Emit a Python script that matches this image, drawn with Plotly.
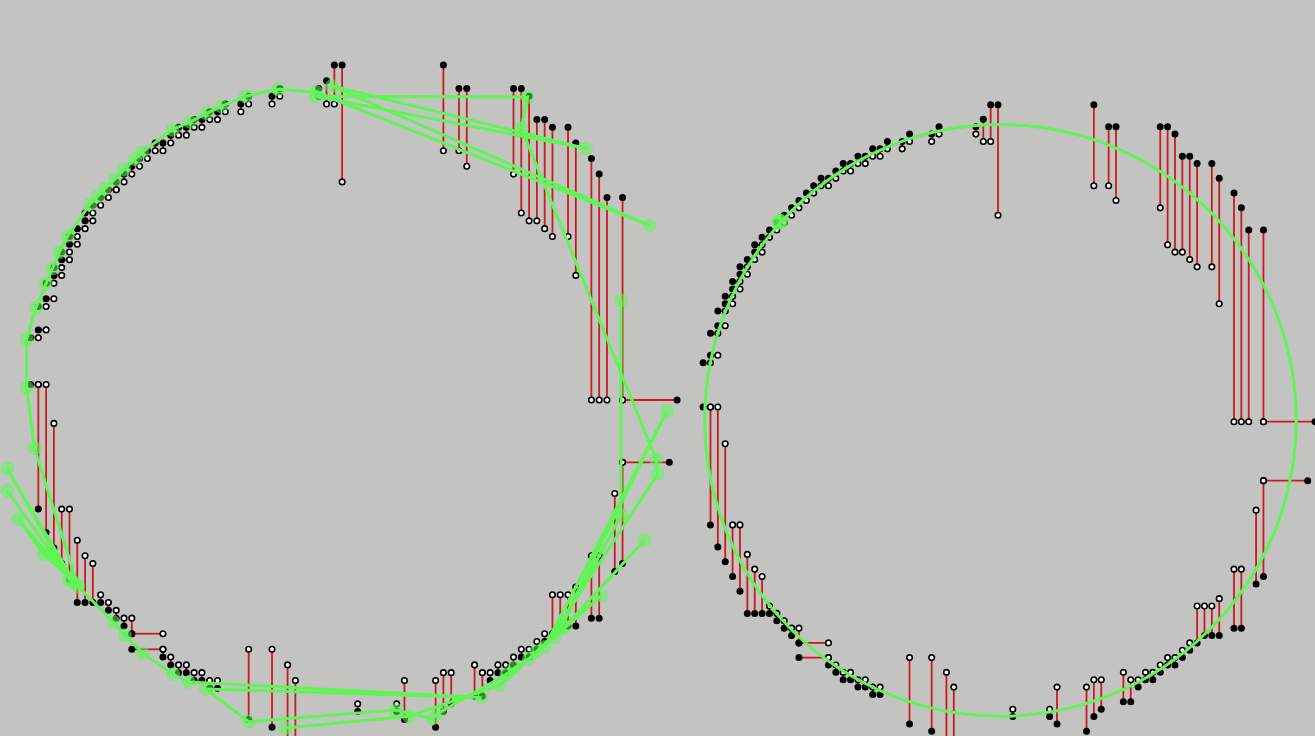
import plotly.graph_objects as go

# ---- paired points (grid units): black "b" points and white "w" points ----
bx = [-40, -40, -39, -39, -38, -38, -37, -37, -36, -36, -35, -35, -34, -33, -33, -32, -31, -30,
      -29, -28, -27, -26, -25, -24, -23, -22, -21, -20, -19, -18, -17, -16, -15, -13, -12, -9, -8, -3, -2, -1, 0,
      13, 15, 16, 22, 23, 24, 25, 26, 27, 29, 30, 32, 33, 34, 36,
      43, 42,
      36, 35, 33, 32, 30, 29, 28, 27, 26, 25, 24, 23, 22, 21, 20, 19, 18, 17, 14, 13, 12, 8, 7, 2,
      -6, -7, -9, -12, -16, -17, -18, -19, -20, -21, -22, -23, -27, -27, -27, -28, -29, -30, -31, -32, -33, -34,
      -35, -36, -37, -38, -39]
by = [2, 8, 9, 12, 13, 15, 16, 17, 18, 19, 20, 21, 22, 23, 24, 25, 26, 27,
      28, 29, 30, 31, 32, 33, 33, 34, 35, 35, 36, 36, 37, 37, 38, 38, 39, 39, 40, 40, 41, 43, 43,
      43, 40, 40, 40, 40, 39, 36, 36, 35, 35, 33, 31, 29, 26, 26,
      0, -8,
      -21, -22, -28, -28, -29, -29, -29, -30, -31, -32, -33, -33, -34, -35, -35, -36, -38, -38, -39, -40, -42, -41, -40, -40,
      -46, -45, -42, -41, -37, -37, -36, -36, -35, -35, -34, -33, -32, -30, -30, -29, -28, -27, -26, -26, -26, -26,
      -23, -21, -19, -17, -14]
wx = [-39, -39, -38, -38, -37, -37, -36, -36, -35, -35, -34, -34, -33, -32, -32, -31, -30, -29,
      -29, -28, -27, -26, -25, -24, -23, -22, -21, -20, -19, -18, -17, -16, -15, -13, -12, -9, -8, -3, -2, -1, 0,
      13, 15, 16, 22, 23, 24, 25, 26, 27, 29, 30, 32, 33, 34, 36,
      36, 36,
      36, 35, 33, 32, 30, 29, 28, 27, 26, 25, 24, 23, 22, 21, 20, 19, 18, 17, 14, 13, 12, 8, 7, 2,
      -6, -7, -9, -12, -16, -17, -18, -19, -20, -21, -22, -23, -23, -23, -27, -28, -29, -30, -31, -32, -33, -34,
      -35, -36, -37, -38, -39]
wy = [2, 8, 9, 12, 13, 15, 16, 17, 18, 19, 20, 21, 22, 23, 24, 25, 26, 27,
      27, 28, 29, 30, 31, 32, 32, 33, 34, 34, 35, 35, 36, 36, 37, 37, 38, 38, 39, 39, 38, 38, 28,
      32, 32, 30, 29, 24, 23, 23, 22, 21, 21, 16, 0, 0, 0, 0,
      0, -8,
      -8, -12, -20, -20, -24, -25, -25, -25, -30, -31, -32, -32, -33, -34, -34, -35, -35, -34, -35, -35, -36, -36, -39, -39,
      -36, -34, -32, -32, -36, -36, -35, -35, -34, -34, -33, -32, -32, -30, -28, -28, -27, -26, -25, -21, -20, -18,
      -14, -14, -3, 2, 2]

# ---- green path of the left panel (grid units) ----
gx = [35.8, 35.8, 27.9, 24.9, 24.0, 22.1, 21.1, 12.5, 11.6, 6.9,
      -12.0, -17.5, 17.9, -19.7, -21.7, -25.6, -27.9, -29.4, -34.3, -43.0,
      -35.0, -43.0, -34.7, -41.6, -38.3, -33.9, -39.5, -40.5, -40.5, -39.3,
      -38.0, -37.2, -36.3, -35.2, -32.4, -31.4, -30.5, -29.2, -28.0, -26.6,
      -25.7, -21.8, -19.5, -17.4, -15.5, -12.4, -8.2, -3.3, 39.5, -1.3,
      31.3, -3.4, 23.8, 23.0, 40.3, 40.5, 26.0, 41.7, 27.3, 38.8,
      28.6, 33.3, 20.2, 8.6, -7.3]
gy = [12.8, -14.8, -29.5, -32.3, -33.2, -34.4, -35.2, -40.1, -40.9, -39.8,
      -41.3, -37.1, -38.2, -36.2, -35.2, -32.5, -30.2, -28.5, -23.5, -8.8,
      -23.0, -11.6, -23.3, -15.3, -19.8, -23.9, -6.2, 1.6, 7.8, 11.9,
      15.0, 16.9, 19.0, 21.1, 25.1, 26.1, 27.1, 28.3, 29.6, 30.9,
      31.8, 34.7, 35.7, 36.8, 37.7, 39.0, 39.9, 39.5, 22.4, 40.3,
      32.3, 39.0, 38.9, 34.9, -7.6, -9.5, -31.7, -1.4, -30.5, -18.0,
      -29.1, -25.1, -36.6, -40.6, -42.1]

# ---- fitted circle of the right panel ----
circle_cx, circle_cy, circle_r = 0.33, 0.18, 40.12
mark_x, mark_y = [-29.6], [27.1]

GREEN = "rgb(95,245,85)"
RED = "#cc1a1a"
BG = "#c3c4c2"

# segments from each black point to its white partner
seg_x, seg_y = [], []
for x0, y0, x1, y1 in zip(bx, by, wx, wy):
    seg_x += [x0, x1, None]
    seg_y += [y0, y1, None]

fig = go.Figure()
for xa, ya in (("x", "y"), ("x2", "y2")):
    fig.add_trace(go.Scatter(x=seg_x, y=seg_y, mode="lines", xaxis=xa, yaxis=ya,
                             line=dict(color=RED, width=1.8), hoverinfo="skip", showlegend=False))
    fig.add_trace(go.Scatter(x=bx, y=by, mode="markers", xaxis=xa, yaxis=ya,
                             marker=dict(color="black", size=7, line=dict(width=0)),
                             showlegend=False))
    fig.add_trace(go.Scatter(x=wx, y=wy, mode="markers", xaxis=xa, yaxis=ya,
                             marker=dict(color="white", size=5.5, line=dict(color="black", width=1.6)),
                             showlegend=False))

fig.add_trace(go.Scatter(x=gx, y=gy, mode="lines+markers", xaxis="x", yaxis="y",
                         line=dict(color=GREEN, width=3),
                         marker=dict(color="rgba(95,245,85,0.55)", size=14, line=dict(width=0)),
                         showlegend=False))
fig.add_trace(go.Scatter(x=mark_x, y=mark_y, mode="markers", xaxis="x2", yaxis="y2",
                         marker=dict(color="rgba(95,245,85,0.85)", size=16, line=dict(width=0)),
                         showlegend=False))

fig.add_shape(type="circle", xref="x2", yref="y2",
              x0=circle_cx - circle_r, x1=circle_cx + circle_r,
              y0=circle_cy - circle_r, y1=circle_cy + circle_r,
              line=dict(color=GREEN, width=3), layer="above")

ax = dict(visible=False, showgrid=False, zeroline=False, domain=[0, 1])
fig.update_layout(
    width=1315, height=736,
    margin=dict(l=0, r=0, t=0, b=0),
    paper_bgcolor=BG, plot_bgcolor=BG,
    showlegend=False,
    xaxis=dict(ax, range=[-43.92, 124.89]),
    yaxis=dict(ax, range=[-43.13, 51.35]),
    xaxis2=dict(ax, range=[-135.36, 42.99], overlaying="x", anchor="y2"),
    yaxis2=dict(ax, range=[-42.63, 57.19], overlaying="y", anchor="x2"),
)

fig.write_html("out.html")
